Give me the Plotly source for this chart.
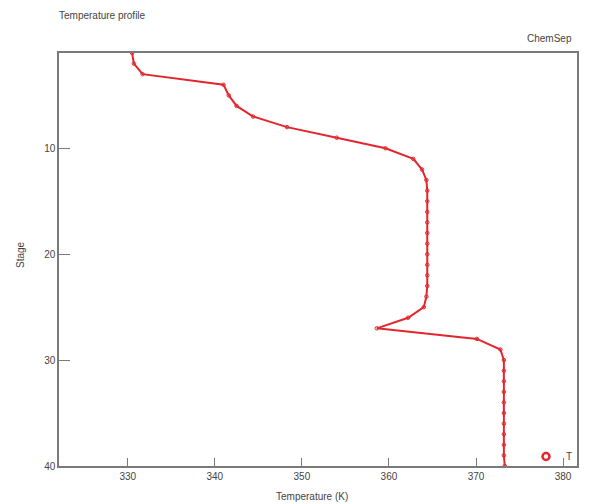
import plotly.graph_objects as go

stages = list(range(1, 41))
temperature = [
    330.5, 330.7, 331.7, 341.0, 341.6, 342.5, 344.4, 348.3, 354.0, 359.6,
    362.8, 363.8, 364.3, 364.4, 364.4, 364.4, 364.4, 364.4, 364.4, 364.4,
    364.4, 364.4, 364.4, 364.3, 364.0, 362.2, 358.6, 370.1, 372.8, 373.2,
    373.2, 373.2, 373.2, 373.2, 373.2, 373.2, 373.2, 373.2, 373.2, 373.3,
]
x_ticks = [330, 340, 350, 360, 370, 380]
y_ticks = [10, 20, 30, 40]

W, H = 590, 504
L, R, T, B = 59, 13, 53, 38
RED = "#e3262d"
TXT = "#444444"
AX = "#7a7a7a"
FONT = "Liberation Sans, Arial, sans-serif"

fig = go.Figure()
fig.add_trace(go.Scatter(
    x=temperature, y=stages, mode="lines+markers",
    line=dict(color=RED, width=2),
    marker=dict(symbol="circle-open", size=3.5, color=RED, line=dict(width=1, color=RED)),
    showlegend=False,
))
fig.add_trace(go.Scatter(
    x=[None], y=[None], mode="markers", name="T",
    marker=dict(symbol="circle-open", size=7, color=RED, line=dict(width=2.5, color=RED)),
))

def px_x(px):
    return (px - L) / (W - L - R)

def px_y(py):
    return 1 - (py - T) / (H - T - B)

fig.update_layout(
    width=W, height=H,
    margin=dict(l=L, r=R, t=T, b=B, pad=0),
    paper_bgcolor="white", plot_bgcolor="white",
    font=dict(family=FONT, size=10, color=TXT),
    xaxis=dict(
        range=[322.1, 381.6], tickvals=x_ticks, ticks="inside", ticklen=8,
        tickcolor=AX, tickwidth=1, showline=True, linecolor=AX, linewidth=1.5,
        mirror=True, showgrid=False, zeroline=False,
        tickfont=dict(size=10, color=TXT),
    ),
    yaxis=dict(
        range=[40, 1], tickvals=y_ticks, ticks="inside", ticklen=11,
        tickcolor=AX, tickwidth=1, showline=True, linecolor=AX, linewidth=1.5,
        mirror=True, showgrid=False, zeroline=False,
        tickfont=dict(size=10, color=TXT),
    ),
    legend=dict(
        x=px_x(578), y=px_y(471), xanchor="right", yanchor="bottom",
        bgcolor="rgba(0,0,0,0)", borderwidth=0, itemwidth=30,
        font=dict(size=10, color=TXT),
    ),
    annotations=[
        dict(text="Temperature profile", xref="paper", yref="paper",
             x=px_x(57), y=px_y(16), xanchor="left", yanchor="middle",
             showarrow=False, font=dict(size=10, color=TXT)),
        dict(text="ChemSep", xref="paper", yref="paper",
             x=px_x(574), y=px_y(38), xanchor="right", yanchor="middle",
             showarrow=False, font=dict(size=10, color=TXT)),
        dict(text="Stage", xref="paper", yref="paper",
             x=px_x(20), y=px_y(255), xanchor="center", yanchor="middle",
             textangle=-90, showarrow=False, font=dict(size=10, color=TXT)),
        dict(text="Temperature (K)", xref="paper", yref="paper",
             x=px_x(312), y=px_y(497), xanchor="center", yanchor="middle",
             showarrow=False, font=dict(size=10, color=TXT)),
    ],
)

fig.write_html("out.html")
